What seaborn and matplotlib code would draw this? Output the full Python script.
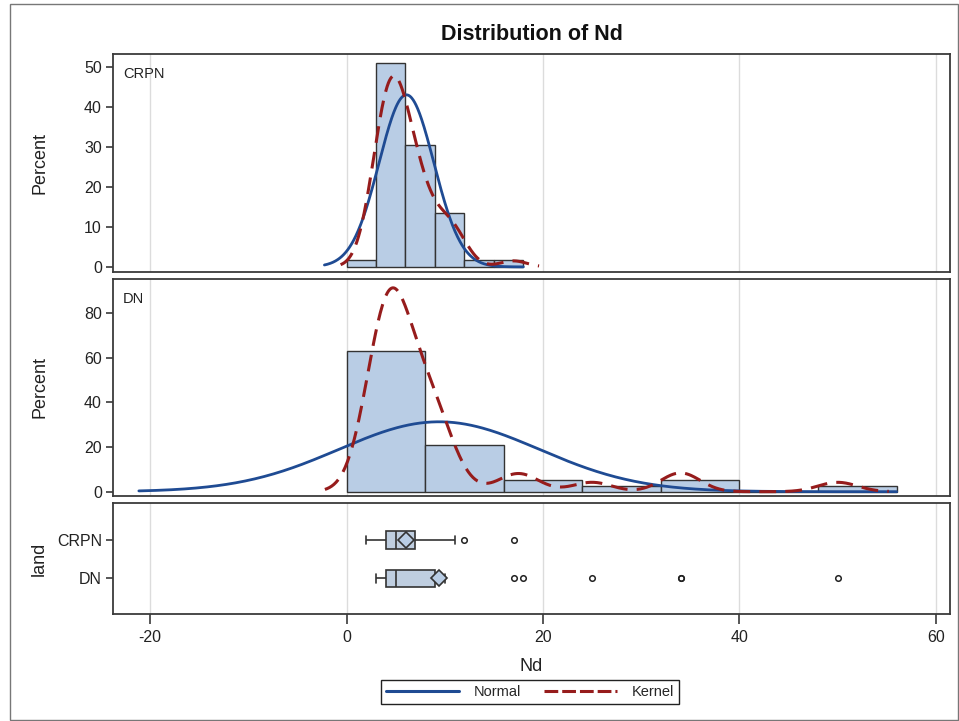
import numpy as np
import pandas as pd
import seaborn as sns
import matplotlib.pyplot as plt
from matplotlib.lines import Line2D
from matplotlib.patches import Rectangle

# ---- data: Nd values per land type (value, frequency) ----
groups = ["CRPN", "DN"]
crpn_nd = [2, 3, 4, 5, 6, 7, 8, 9, 10, 11, 12, 17]
crpn_freq = [1, 6, 12, 12, 8, 6, 4, 2, 3, 3, 1, 1]
dn_nd = [3, 4, 5, 6, 7, 8, 9, 10, 17, 18, 25, 34, 50]
dn_freq = [5, 7, 8, 2, 2, 3, 3, 2, 1, 1, 1, 2, 1]

# histogram bins, kernel bandwidths and kernel curve extension per group
bin_width = {"CRPN": 3, "DN": 8}
bin_end = {"CRPN": 18, "DN": 56}
kernel_bw = {"CRPN": 1.35, "DN": 2.0}
kernel_ext = {"CRPN": 2.6, "DN": 5.2}
pct_ticks = {"CRPN": [0, 10, 20, 30, 40, 50], "DN": [0, 20, 40, 60, 80]}
pct_lims = {"CRPN": (-1.2, 53.2), "DN": (-1.8, 95.2)}
x_ticks = [-20, 0, 20, 40, 60]
x_lims = (-23.77, 61.43)

df = pd.DataFrame({
    "land": ["CRPN"] * sum(crpn_freq) + ["DN"] * sum(dn_freq),
    "Nd": np.concatenate([np.repeat(crpn_nd, crpn_freq), np.repeat(dn_nd, dn_freq)]).astype(float),
})

# ---- style ----
sns.set_theme(style="white")
plt.rcParams["font.family"] = ["Liberation Sans", "DejaVu Sans"]
plt.rcParams["axes.unicode_minus"] = False

FILL = "#B9CDE5"
EDGE = "#333333"
NORMAL = "#1F4B93"
KERNEL = "#961C1C"
GRID = "#DCDCDC"
SPINE = "#3A3A3A"
TXT = "#222222"

W, H = 959, 721
fig = plt.figure(figsize=(W / 100, H / 100), dpi=100)


def fig_axes(x0, y0, x1, y1):
    return fig.add_axes([x0 / W, 1 - y1 / H, (x1 - x0) / W, (y1 - y0) / H])


ax_top = fig_axes(113, 54, 950, 271.7)
ax_mid = fig_axes(113, 279.3, 950, 495.7)
ax_box = fig_axes(113, 503.3, 950, 614.3)
YLABEL_X = (48 - 113) / (950 - 113)


def style_frame(ax):
    for s in ax.spines.values():
        s.set_color(SPINE)
        s.set_linewidth(1.3)
    ax.set_xlim(*x_lims)
    ax.set_xticks(x_ticks)
    ax.grid(axis="x", color=GRID, linewidth=1.0)
    ax.grid(axis="y", visible=False)
    ax.set_axisbelow(True)
    ax.tick_params(axis="y", direction="out", length=5, width=1.2, color=SPINE,
                   labelsize=11.5, labelcolor=TXT, pad=3, left=True)


for ax, g in zip([ax_top, ax_mid], groups):
    vals = df.loc[df["land"] == g, "Nd"].to_numpy()
    bw = bin_width[g]
    edges = np.arange(0, bin_end[g] + bw / 2, bw)
    style_frame(ax)
    sns.histplot(x=vals, bins=edges, stat="percent", ax=ax, color=FILL, alpha=1,
                 edgecolor=EDGE, linewidth=1.0)

    # fitted normal curve, scaled to percent per bin
    mu, sd = vals.mean(), vals.std(ddof=1)
    xn = np.linspace(mu - 3 * sd, bin_end[g], 400)
    yn = 100 * bw * np.exp(-0.5 * ((xn - mu) / sd) ** 2) / (sd * np.sqrt(2 * np.pi))
    sns.lineplot(x=xn, y=yn, ax=ax, color=NORMAL, linewidth=2.0, sort=False)

    # gaussian kernel density, scaled to percent per bin
    h = kernel_bw[g]
    xk = np.linspace(vals.min() - kernel_ext[g], vals.max() + kernel_ext[g], 500)
    dens = np.exp(-0.5 * ((xk[:, None] - vals[None, :]) / h) ** 2).sum(axis=1)
    yk = 100 * bw * dens / (len(vals) * h * np.sqrt(2 * np.pi))
    sns.lineplot(x=xk, y=yk, ax=ax, color=KERNEL, linewidth=2.2, sort=False,
                 linestyle=(0, (5.5, 3)))

    ax.set_ylim(*pct_lims[g])
    ax.set_yticks(pct_ticks[g])
    ax.tick_params(axis="x", length=0, labelbottom=False)
    ax.set_xlabel("")
    ax.set_ylabel("Percent", fontsize=13, color=TXT)
    ax.yaxis.set_label_coords(YLABEL_X, 0.5)
    ax.text(0.012, 0.94, g, transform=ax.transAxes, fontsize=10.5, color=TXT,
            ha="left", va="top")

# ---- box plot panel ----
style_frame(ax_box)
sns.boxplot(data=df, x="Nd", y="land", order=groups, orient="h", ax=ax_box,
            width=0.46, whis=1.5, color=FILL, linecolor=EDGE, linewidth=1.2,
            showmeans=True,
            meanprops=dict(marker="D", markersize=8.5, markerfacecolor=FILL,
                           markeredgecolor=EDGE, markeredgewidth=1.2),
            flierprops=dict(marker="o", markersize=4, markerfacecolor="none",
                            markeredgecolor=TXT, markeredgewidth=1.1))
ax_box.set_ylim(1.94, -0.96)
ax_box.set_xlim(*x_lims)
ax_box.tick_params(axis="x", direction="out", length=7.5, width=1.2, color=SPINE,
                   labelsize=11.5, labelcolor=TXT, pad=4, bottom=True)
ax_box.set_xlabel("Nd", fontsize=13, color=TXT, labelpad=9)
ax_box.set_ylabel("land", fontsize=13, color=TXT)
ax_box.yaxis.set_label_coords(YLABEL_X, 0.5)

# ---- title, legend, outer border ----
fig.text(531.5 / W, 1 - 35 / H, "Distribution of Nd", ha="center", va="center",
         fontsize=15.5, fontweight="bold", color="#111111")

handles = [Line2D([], [], color=NORMAL, linewidth=2.2, label="Normal"),
           Line2D([], [], color=KERNEL, linewidth=2.2, linestyle=(0, (4.5, 1.3)), label="Kernel")]
leg = fig.legend(handles=handles, loc="center", bbox_to_anchor=(530 / W, 1 - 692 / H),
                 ncol=2, frameon=True, fancybox=False, framealpha=1, fontsize=10.5,
                 handlelength=5.0, handletextpad=1.0, columnspacing=1.6,
                 borderpad=0.35)
leg.get_frame().set_edgecolor(TXT)
leg.get_frame().set_linewidth(1.0)

fig.patches.append(Rectangle((10 / W, 1 - 720 / H), (958 - 10) / W, (720 - 4) / H,
                             transform=fig.transFigure, fill=False,
                             edgecolor="#777777", linewidth=1.0))

fig.savefig("out.png", dpi=100)
